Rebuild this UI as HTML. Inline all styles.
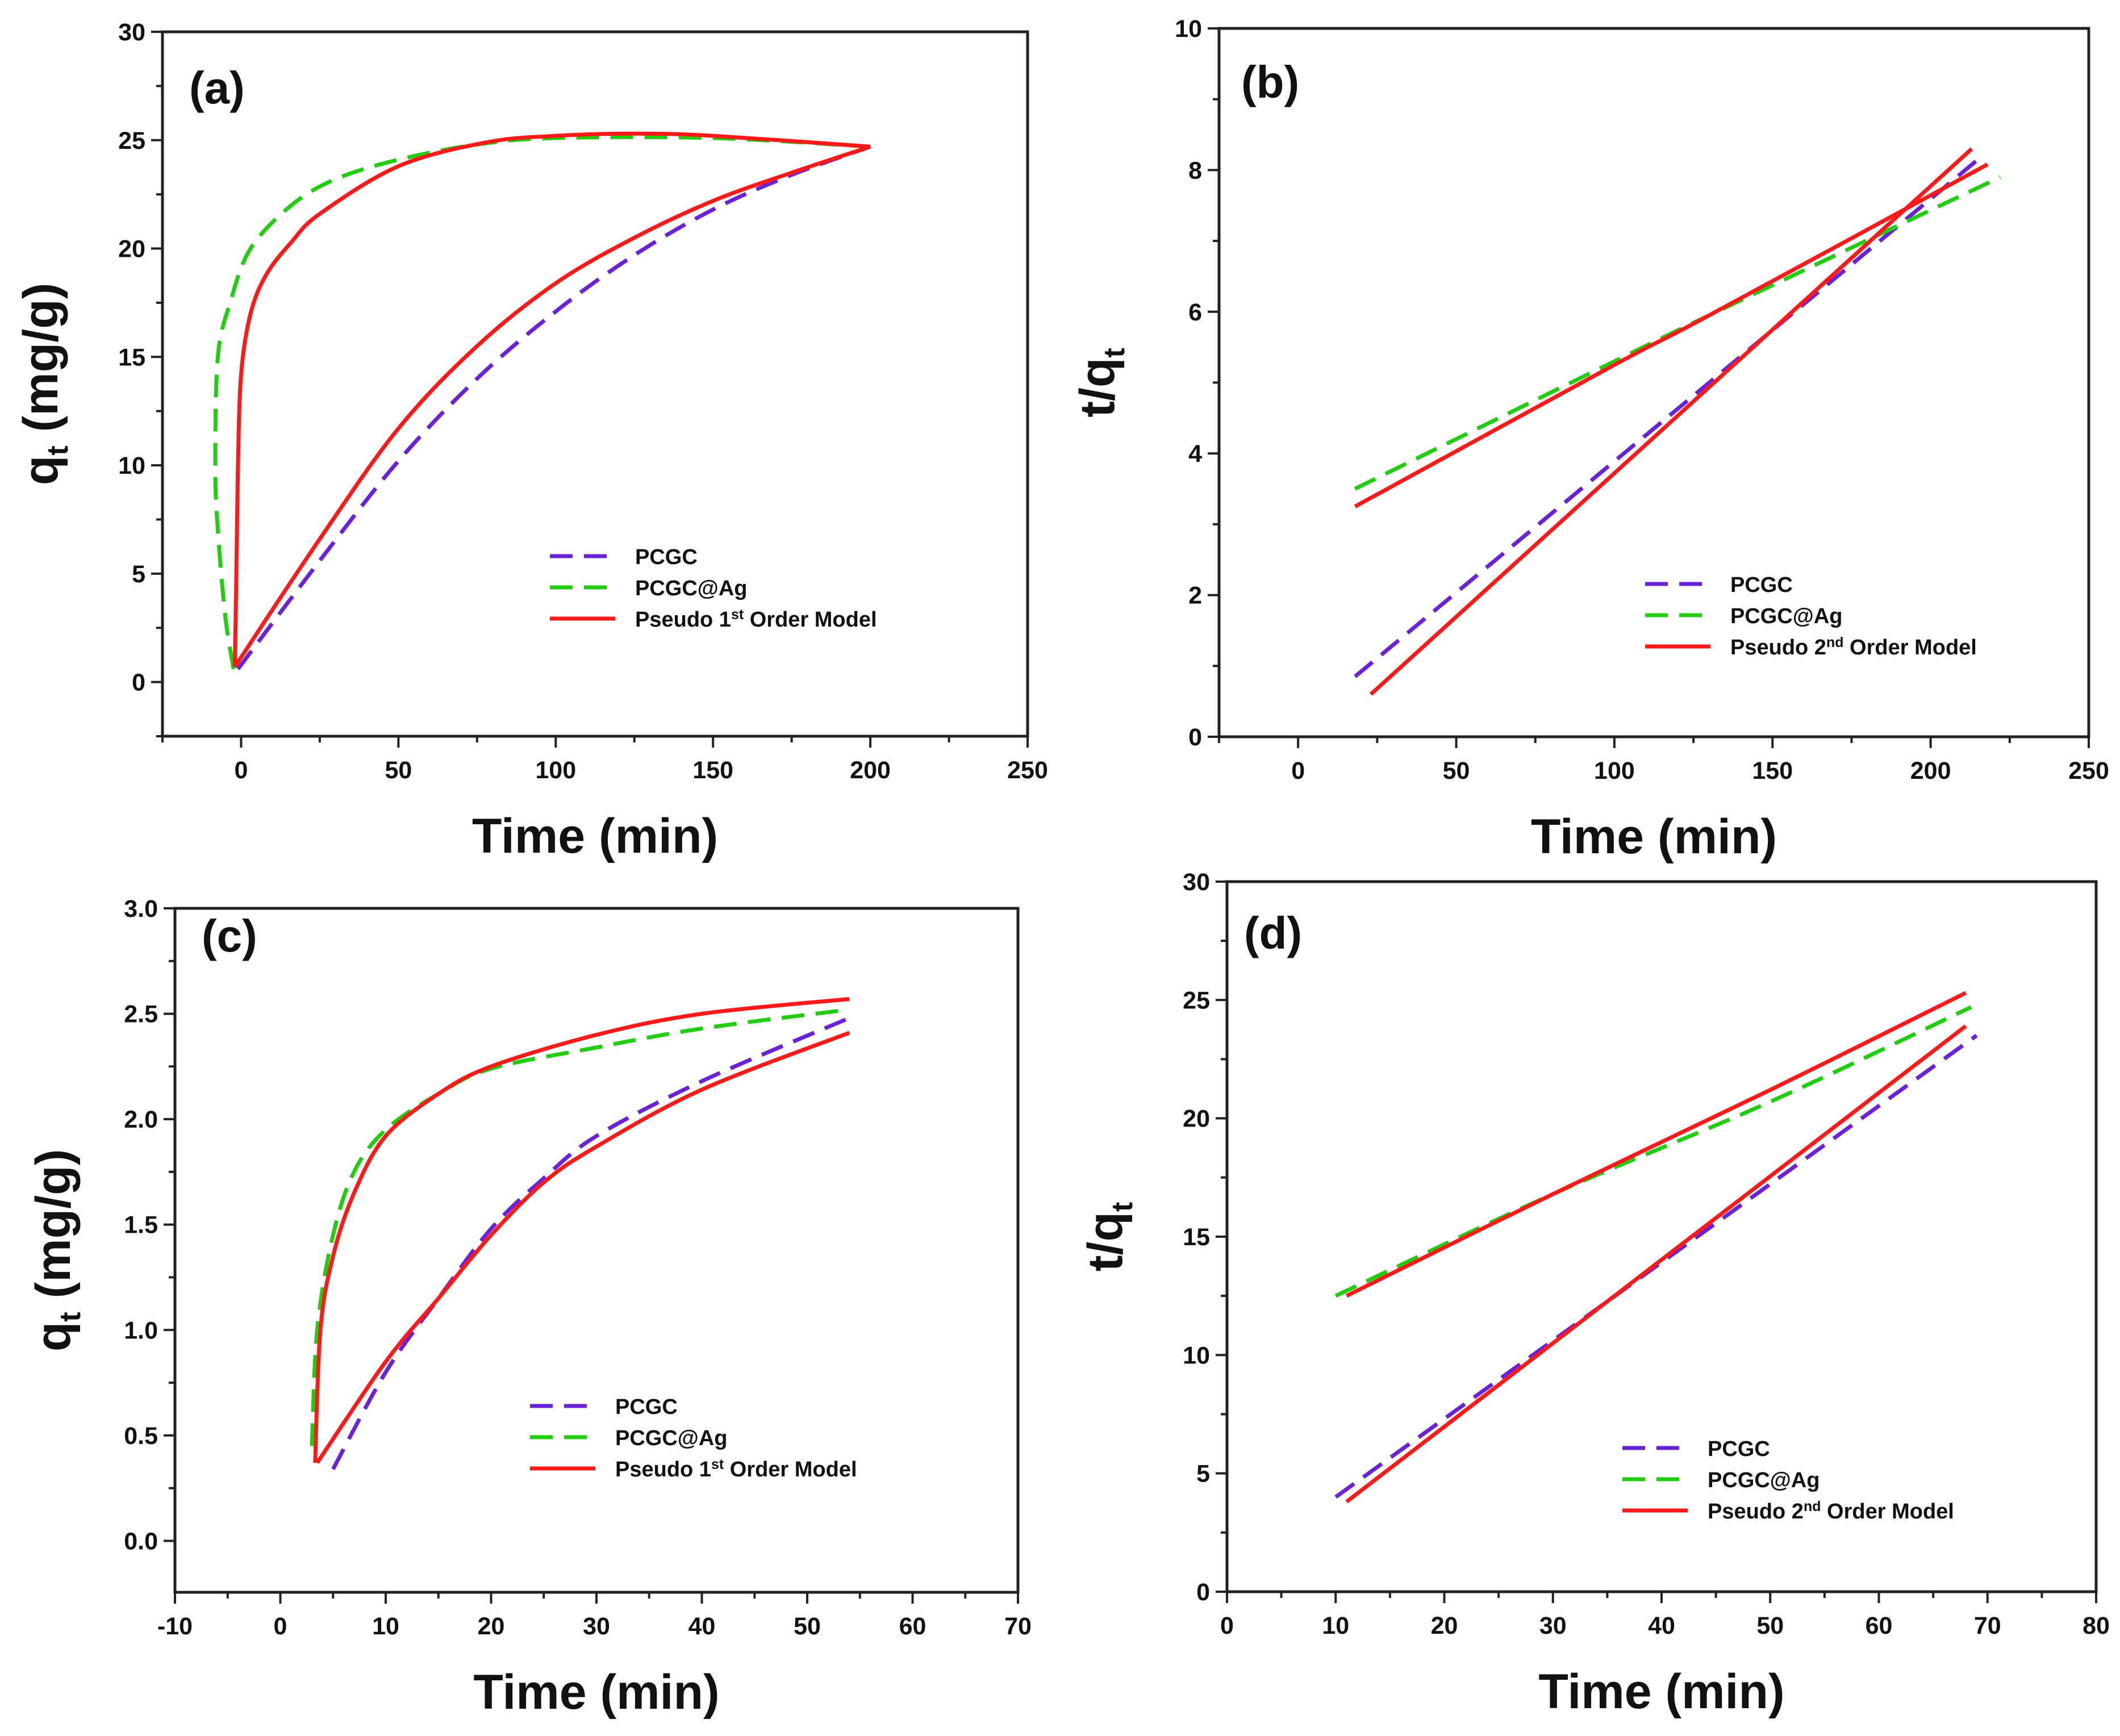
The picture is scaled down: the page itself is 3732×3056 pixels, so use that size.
<!DOCTYPE html>
<html><head><meta charset="utf-8"><style>
html,body{margin:0;padding:0;background:#fff}
svg{display:block}
text{font-family:"Liberation Sans",Arial,sans-serif;font-weight:bold;fill:#111}
</style></head><body>
<svg id="fig" xmlns="http://www.w3.org/2000/svg" width="3732" height="3056" viewBox="0 0 3732 3056"></svg>
<script>
// ---- Panel (a) data: pseudo 1st order, qt vs time ----
const aPCGCx = [-1, 25, 50, 75, 100, 125, 150, 175, 200];
const aPCGCy = [0.6, 5.6, 10.2, 14.0, 17.1, 19.7, 21.8, 23.4, 24.7];
const aAgx = [-2.4, -5, -7.4, -8.2, -7.4, -3.5, 3, 16, 30, 50, 75, 100, 150, 200];
const aAgy = [0.6, 3, 7, 10, 15, 17.5, 20, 22, 23.2, 24.1, 24.8, 25.1, 25.1, 24.7];
const aFitUpx = [-2, -1.5, -1, 0, 3, 8, 16, 25, 50, 78, 100, 125, 150, 200];
const aFitUpy = [0.7, 5, 10, 14.2, 17.0, 18.8, 20.3, 21.6, 23.8, 24.9, 25.2, 25.3, 25.2, 24.7];
const aFitLox = [-2, 25, 50, 75, 100, 125, 150, 175, 200];
const aFitLoy = [0.7, 6.6, 11.7, 15.5, 18.4, 20.5, 22.2, 23.5, 24.7];
// ---- Panel (b) data: pseudo 2nd order, t/qt vs time ----
const bPCGCx = [18, 215];
const bPCGCy = [0.85, 8.15];
const bAgx = [18, 100, 130, 222];
const bAgy = [3.5, 5.3, 5.95, 7.9];
const bFitSteepx = [23, 213];
const bFitSteepy = [0.6, 8.3];
const bFitShallowx = [18, 100, 130, 218];
const bFitShallowy = [3.25, 5.25, 5.95, 8.08];
// ---- Panel (c) data ----
const cPCGCx = [5, 10, 15, 20, 25, 30, 40, 54];
const cPCGCy = [0.34, 0.8, 1.15, 1.48, 1.72, 1.92, 2.18, 2.48];
const cAgx = [3, 3.5, 5, 7, 10, 15, 20, 30, 40, 54];
const cAgy = [0.45, 1.0, 1.45, 1.75, 1.95, 2.12, 2.24, 2.34, 2.43, 2.52];
const cFitUpx = [3.3, 3.8, 5, 7, 10, 15, 20, 30, 40, 54];
const cFitUpy = [0.37, 1.0, 1.35, 1.65, 1.92, 2.12, 2.25, 2.4, 2.5, 2.57];
const cFitLox = [3.5, 10, 15, 20, 25, 30, 40, 54];
const cFitLoy = [0.37, 0.85, 1.15, 1.45, 1.7, 1.87, 2.14, 2.41];
// ---- Panel (d) data ----
const dPCGCx = [10, 69];
const dPCGCy = [4.0, 23.5];
const dAgx = [10, 30, 50, 68.5];
const dAgy = [12.5, 16.8, 20.7, 24.7];
const dFitSteepx = [11, 68];
const dFitSteepy = [3.8, 23.9];
const dFitShallowx = [11, 30, 50, 68];
const dFitShallowy = [12.5, 16.8, 21.2, 25.3];
// ---- ticks ----
const aXticks = [0, 50, 100, 150, 200, 250];
const aYticks = [0, 5, 10, 15, 20, 25, 30];
const bXticks = [0, 50, 100, 150, 200, 250];
const bYticks = [0, 2, 4, 6, 8, 10];
const cXticks = [-10, 0, 10, 20, 30, 40, 50, 60, 70];
const cYticks = ["0.0", "0.5", "1.0", "1.5", "2.0", "2.5", "3.0"];
const dXticks = [0, 10, 20, 30, 40, 50, 60, 70, 80];
const dYticks = [0, 5, 10, 15, 20, 25, 30];

const NS = "http://www.w3.org/2000/svg";
const svg = document.getElementById('fig');
function mk(tag, attrs, parent, name) {
  const e = document.createElementNS(NS, tag);
  for (const k in attrs) e.setAttribute(k, attrs[k]);
  
  
  parent.appendChild(e);
  return e;
}
const PURPLE = "#6a22d8", GREEN = "#22cc11", RED = "#ff1a1a";

function smoothPath(pts) {
  let d = 'M' + pts[0][0].toFixed(1) + ',' + pts[0][1].toFixed(1);
  for (let i = 0; i < pts.length - 1; i++) {
    const p0 = pts[i - 1] || pts[i], p1 = pts[i], p2 = pts[i + 1], p3 = pts[i + 2] || p2;
    const c1 = [p1[0] + (p2[0] - p0[0]) / 6, p1[1] + (p2[1] - p0[1]) / 6];
    const c2 = [p2[0] - (p3[0] - p1[0]) / 6, p2[1] - (p3[1] - p1[1]) / 6];
    d += ' C' + c1.map(v => v.toFixed(1)).join(',') + ' ' + c2.map(v => v.toFixed(1)).join(',') + ' ' + p2.map(v => v.toFixed(1)).join(',');
  }
  return d;
}

function panel(p) {
  const g = mk('g', {}, svg, 'panel-' + p.id);
  const sx = v => p.L + (v - p.x0) / (p.x1 - p.x0) * (p.R - p.L);
  const sy = v => p.B - (v - p.y0) / (p.y1 - p.y0) * (p.B - p.T);
  mk('rect', {x: p.L, y: p.T, width: p.R - p.L, height: p.B - p.T, fill: 'none', stroke: '#222', 'stroke-width': 5}, g, 'plot-frame');
  const xt = p.xt.map(Number);
  const xstep = xt[1] - xt[0];
  for (let v = p.x0; v <= p.x1 + 1e-9; v += xstep / 2) {
    const major = xt.some(t => Math.abs(t - v) < 1e-9);
    mk('line', {x1: sx(v), x2: sx(v), y1: p.B, y2: p.B + (major ? 20 : 11), stroke: '#222', 'stroke-width': 4}, g, 'x-tick');
  }
  p.xt.forEach(t => {
    const e = mk('text', {x: sx(Number(t)), y: p.B + 74, 'font-size': 43, 'text-anchor': 'middle'}, g, 'x-tick-label');
    e.textContent = t;
  });
  const yt = p.yt.map(Number);
  const ystep = yt[1] - yt[0];
  const ystart = Math.ceil((p.y0 - 1e-9) / (ystep / 2)) * (ystep / 2);
  for (let v = ystart; v <= p.y1 + 1e-9; v += ystep / 2) {
    const major = yt.some(t => Math.abs(t - v) < 1e-9);
    mk('line', {x1: p.L, x2: p.L - (major ? 20 : 11), y1: sy(v), y2: sy(v), stroke: '#222', 'stroke-width': 4}, g, 'y-tick');
  }
  p.yt.forEach(t => {
    const e = mk('text', {x: p.L - 30, y: sy(Number(t)) + 15, 'font-size': 43, 'text-anchor': 'end'}, g, 'y-tick-label');
    e.textContent = t;
  });
  p.series.forEach(s => {
    const pts = s.x.map((v, i) => [sx(v), sy(s.y[i])]);
    const at = {d: smoothPath(pts), fill: 'none', stroke: s.c, 'stroke-width': 7, 'stroke-linejoin': 'round'};
    if (s.dash) at['stroke-dasharray'] = '40 20';
    mk('path', at, g, s.name);
  });
  const labels = ['PCGC', 'PCGC@Ag', null];
  const cols = [PURPLE, GREEN, RED];
  for (let i = 0; i < 3; i++) {
    const y = p.legY + i * 55;
    const la = {x1: p.legX, x2: p.legX + 115, y1: y, y2: y, stroke: cols[i], 'stroke-width': 7};
    if (i < 2) la['stroke-dasharray'] = '40 20';
    mk('line', la, g, 'legend-swatch-' + (i === 0 ? 'pcgc' : i === 1 ? 'pcgc-ag' : 'model'));
    const t = mk('text', {x: p.legX + 150, y: y + 14, 'font-size': 38}, g, 'legend-label-' + (i === 0 ? 'pcgc' : i === 1 ? 'pcgc-ag' : 'model'));
    if (labels[i]) t.textContent = labels[i];
    else t.innerHTML = 'Pseudo ' + p.ord[0] + '<tspan font-size="25" dy="-13">' + p.ord[1] + '</tspan><tspan dy="13"> Order Model</tspan>';
  }
  const pl = mk('text', {x: p.labX, y: p.labY, 'font-size': 80}, g, 'panel-label');
  pl.textContent = '(' + p.id + ')';
  const xtitle = mk('text', {x: (p.L + p.R) / 2, y: p.B + 205, 'font-size': 86, 'text-anchor': 'middle'}, g, 'x-axis-title');
  xtitle.textContent = 'Time (min)';
  const yx = p.L - 185, yy = (p.T + p.B) / 2;
  const ytitle = mk('text', {x: yx, y: yy, 'font-size': 86, 'text-anchor': 'middle', transform: 'rotate(-90 ' + yx + ' ' + yy + ')'}, g, 'y-axis-title');
  if (p.ytype === 'q') ytitle.innerHTML = 'q<tspan font-size="52" dy="18">t</tspan><tspan dy="-18"> (mg/g)</tspan>';
  else ytitle.innerHTML = 't/q<tspan font-size="52" dy="18">t</tspan>';
}

panel({id: 'a', L: 286, R: 1809, T: 56, B: 1296, x0: -25, x1: 250, y0: -2.5, y1: 30, xt: aXticks, yt: aYticks,
  series: [
    {x: aPCGCx, y: aPCGCy, c: PURPLE, dash: 1, name: 'pcgc-line'},
    {x: aAgx, y: aAgy, c: GREEN, dash: 1, name: 'pcgc-ag-line'},
    {x: aFitUpx, y: aFitUpy, c: RED, name: 'fit-line-ag'},
    {x: aFitLox, y: aFitLoy, c: RED, name: 'fit-line-pcgc'}],
  legX: 968, legY: 979, ord: ['1', 'st'], labX: 333, labY: 182, ytype: 'q'});
panel({id: 'b', L: 2146, R: 3677, T: 50, B: 1297, x0: -25, x1: 250, y0: 0, y1: 10, xt: bXticks, yt: bYticks,
  series: [
    {x: bPCGCx, y: bPCGCy, c: PURPLE, dash: 1, name: 'pcgc-line'},
    {x: bAgx, y: bAgy, c: GREEN, dash: 1, name: 'pcgc-ag-line'},
    {x: bFitSteepx, y: bFitSteepy, c: RED, name: 'fit-line-pcgc'},
    {x: bFitShallowx, y: bFitShallowy, c: RED, name: 'fit-line-ag'}],
  legX: 2896, legY: 1028, ord: ['2', 'nd'], labX: 2185, labY: 172, ytype: 't'});
panel({id: 'c', L: 308, R: 1792, T: 1599, B: 2803, x0: -10, x1: 70, y0: -0.244, y1: 3, xt: cXticks, yt: cYticks,
  series: [
    {x: cPCGCx, y: cPCGCy, c: PURPLE, dash: 1, name: 'pcgc-line'},
    {x: cAgx, y: cAgy, c: GREEN, dash: 1, name: 'pcgc-ag-line'},
    {x: cFitUpx, y: cFitUpy, c: RED, name: 'fit-line-ag'},
    {x: cFitLox, y: cFitLoy, c: RED, name: 'fit-line-pcgc'}],
  legX: 933, legY: 2475, ord: ['1', 'st'], labX: 355, labY: 1675, ytype: 'q'});
panel({id: 'd', L: 2160, R: 3690, T: 1552, B: 2802, x0: 0, x1: 80, y0: 0, y1: 30, xt: dXticks, yt: dYticks,
  series: [
    {x: dPCGCx, y: dPCGCy, c: PURPLE, dash: 1, name: 'pcgc-line'},
    {x: dAgx, y: dAgy, c: GREEN, dash: 1, name: 'pcgc-ag-line'},
    {x: dFitSteepx, y: dFitSteepy, c: RED, name: 'fit-line-pcgc'},
    {x: dFitShallowx, y: dFitShallowy, c: RED, name: 'fit-line-ag'}],
  legX: 2856, legY: 2549, ord: ['2', 'nd'], labX: 2190, labY: 1670, ytype: 't'});
</script>
</body></html>
